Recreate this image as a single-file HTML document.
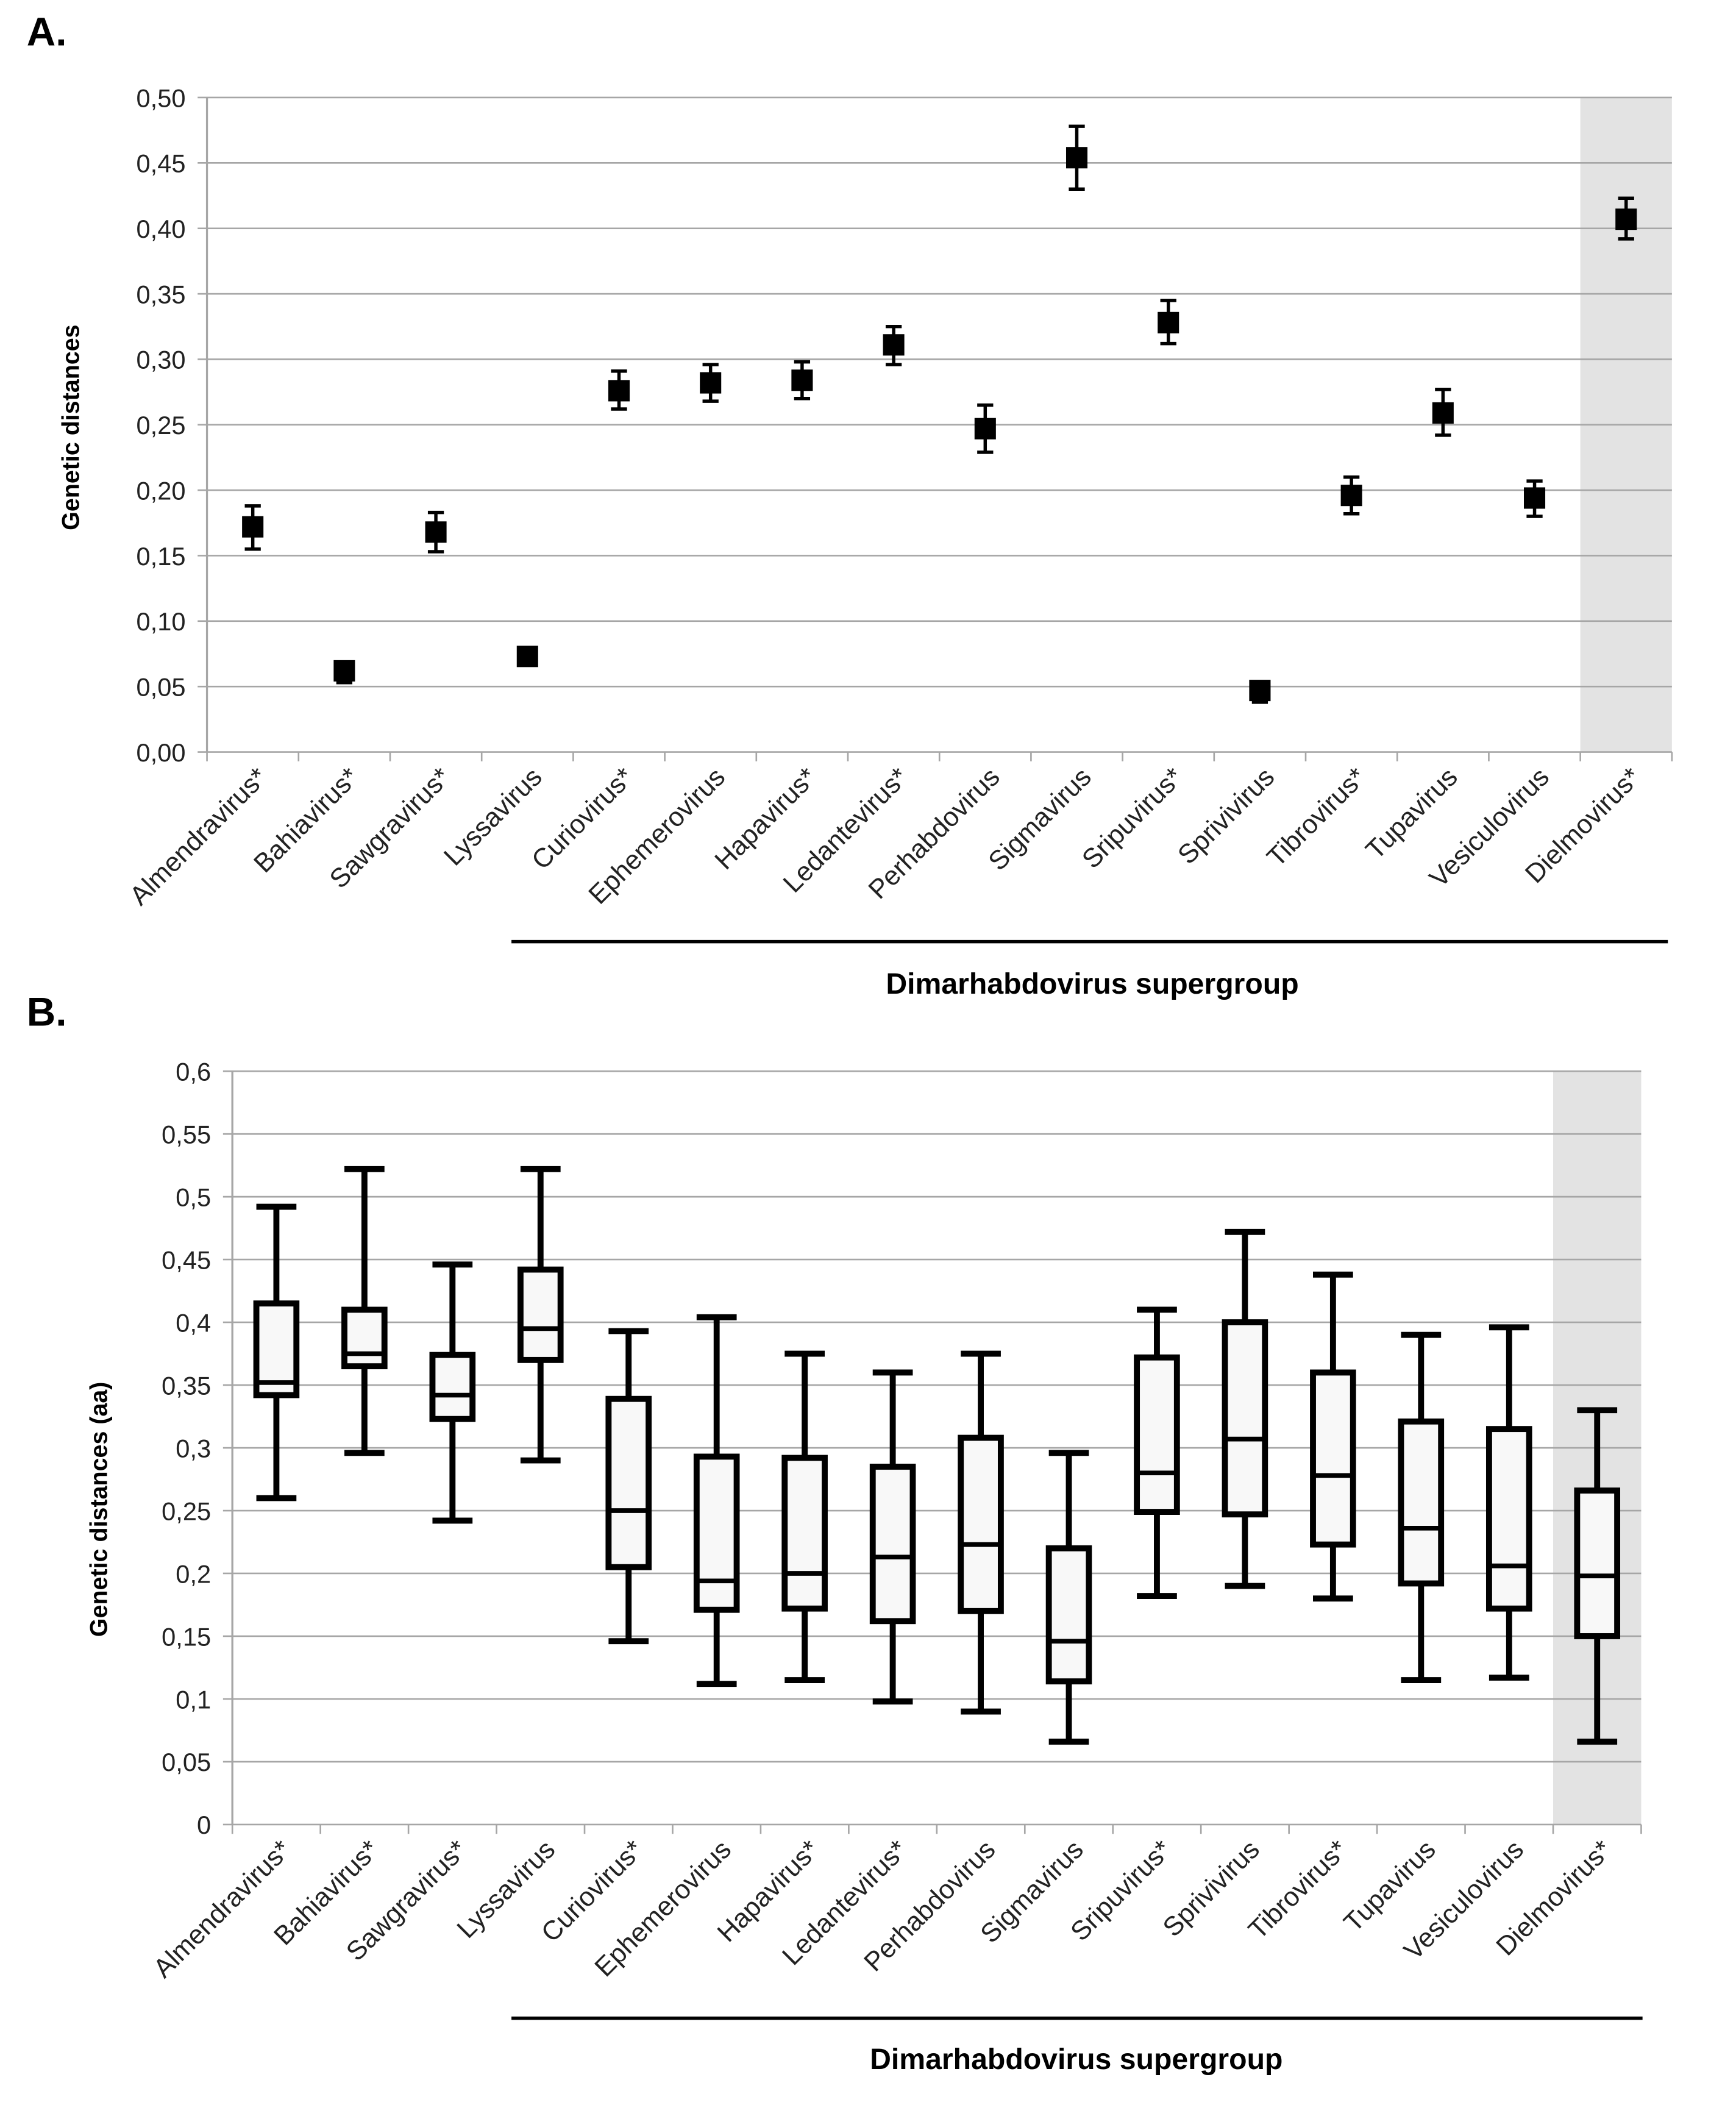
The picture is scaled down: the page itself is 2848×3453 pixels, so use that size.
<!DOCTYPE html>
<html><head><meta charset="utf-8"><style>
html,body{margin:0;padding:0;background:#fff;}
svg{display:block;font-family:"Liberation Sans",sans-serif;}
</style></head><body>
<svg id="fig" width="2848" height="3453" viewBox="0 0 1300 1576" preserveAspectRatio="none" xmlns="http://www.w3.org/2000/svg">
<rect width="1300" height="1576" fill="#fff"/>
<g id="chartA"></g>
<g id="chartB"></g>
</svg>
<script>
const catsA = ["Almendravirus*","Bahiavirus*","Sawgravirus*","Lyssavirus","Curiovirus*","Ephemerovirus","Hapavirus*","Ledantevirus*","Perhabdovirus","Sigmavirus","Sripuvirus*","Sprivivirus","Tibrovirus*","Tupavirus","Vesiculovirus","Dielmovirus*"];
const valsA = [0.172,0.062,0.168,0.073,0.276,0.282,0.284,0.311,0.247,0.454,0.328,0.047,0.196,0.259,0.194,0.407];
const loA = [0.155,0.053,0.153,0.070,0.262,0.268,0.270,0.296,0.229,0.430,0.312,0.038,0.182,0.242,0.180,0.392];
const hiA = [0.188,0.068,0.183,0.076,0.291,0.296,0.298,0.325,0.265,0.478,0.345,0.052,0.210,0.277,0.207,0.423];
const ticksA = ["0,00","0,05","0,10","0,15","0,20","0,25","0,30","0,35","0,40","0,45","0,50"];
const tickValsA = [0,0.05,0.10,0.15,0.20,0.25,0.30,0.35,0.40,0.45,0.50];

const catsB = ["Almendravirus*","Bahiavirus*","Sawgravirus*","Lyssavirus","Curiovirus*","Ephemerovirus","Hapavirus*","Ledantevirus*","Perhabdovirus","Sigmavirus","Sripuvirus*","Sprivivirus","Tibrovirus*","Tupavirus","Vesiculovirus","Dielmovirus*"];
const minB = [0.260,0.296,0.242,0.290,0.146,0.112,0.115,0.098,0.090,0.066,0.182,0.190,0.180,0.115,0.117,0.066];
const q1B = [0.342,0.365,0.323,0.370,0.205,0.171,0.172,0.162,0.170,0.114,0.249,0.247,0.223,0.192,0.172,0.150];
const medB = [0.352,0.375,0.342,0.395,0.250,0.194,0.200,0.213,0.223,0.146,0.280,0.307,0.278,0.236,0.206,0.198];
const q3B = [0.415,0.410,0.374,0.442,0.339,0.293,0.292,0.285,0.308,0.220,0.372,0.400,0.360,0.321,0.315,0.266];
const maxB = [0.492,0.522,0.446,0.522,0.393,0.404,0.375,0.360,0.375,0.296,0.410,0.472,0.438,0.390,0.396,0.330];
const ticksB = ["0","0,05","0,1","0,15","0,2","0,25","0,3","0,35","0,4","0,45","0,5","0,55","0,6"];
const tickValsB = [0,0.05,0.1,0.15,0.2,0.25,0.3,0.35,0.4,0.45,0.5,0.55,0.6];

const NS="http://www.w3.org/2000/svg";
function mk(parent,tag,attrs,text){const e=document.createElementNS(NS,tag);for(const k in attrs)e.setAttribute(k,attrs[k]);if(text!==undefined)e.textContent=text;parent.appendChild(e);return e;}

function drawFrame(g,cfg,cats,ticks,tickVals,yScale,xC){
  const {L,R,T,B}=cfg;
  const band=mk(g,'rect',{x:R-(R-L)/16,y:T,width:(R-L)/16,height:B-T,fill:'#e3e3e3'});
  
  
  ticks.forEach((t,i)=>{
    const y=yScale(tickVals[i]);
    const gl=mk(g,'line',{x1:L-7,x2:R,y1:y,y2:y,stroke:'#a6a6a6','stroke-width':1.2});
    
    
    const tl=mk(g,'text',{x:L-16,y:y+7,'text-anchor':'end','font-size':19,fill:'#222'},t);
    
    
  });
  const ax=mk(g,'line',{x1:L,x2:L,y1:T,y2:B,stroke:'#a6a6a6','stroke-width':1.5});
  
  
  const w=(R-L)/16;
  for(let i=0;i<=16;i++){
    const tk=mk(g,'line',{x1:L+i*w,x2:L+i*w,y1:B,y2:B+7,stroke:'#a6a6a6','stroke-width':1.2});
    
    
  }
  cats.forEach((c,i)=>{
    const x=xC(i)+12,y=B+20;
    const t=mk(g,'text',{x:x,y:y,'text-anchor':'end','font-size':20,fill:'#222',transform:`rotate(-45 ${x} ${y})`},c);
    
    
  });
}

// Chart A
(function(){
  const g=document.getElementById('chartA');
  const cfg={L:155,R:1252,T:73,B:563};
  const y=v=>cfg.B-(v/0.5)*(cfg.B-cfg.T);
  const w=(cfg.R-cfg.L)/16;
  const xC=i=>cfg.L+w*(i+0.5);
  const pl=mk(g,'text',{x:20,y:34,'font-size':30,'font-weight':'bold'},'A.');
  
  
  drawFrame(g,cfg,catsA,ticksA,tickValsA,y,xC);
  const yt=mk(g,'text',{x:0,y:0,'font-size':18,'font-weight':'bold','text-anchor':'middle',transform:'translate(59 320) rotate(-90)'},'Genetic distances');
  
  
  valsA.forEach((v,i)=>{
    const x=xC(i);
    const eb=mk(g,'path',{d:`M${x-6} ${y(hiA[i])}H${x+6}M${x} ${y(hiA[i])}V${y(loA[i])}M${x-6} ${y(loA[i])}H${x+6}`,stroke:'#000','stroke-width':2.5,fill:'none'});
    
    
    const m=mk(g,'rect',{x:x-8,y:y(v)-8,width:16,height:16,fill:'#000'});
    
    
  });
  const ln=mk(g,'line',{x1:383,x2:1249,y1:705,y2:705,stroke:'#000','stroke-width':2.5});
  
  
  const sl=mk(g,'text',{x:818,y:744,'text-anchor':'middle','font-size':22,'font-weight':'bold'},'Dimarhabdovirus supergroup');
  
  
})();

// Chart B
(function(){
  const g=document.getElementById('chartB');
  const cfg={L:174,R:1229,T:802,B:1366};
  const y=v=>cfg.B-(v/0.6)*(cfg.B-cfg.T);
  const w=(cfg.R-cfg.L)/16;
  const xC=i=>cfg.L+w*(i+0.5);
  const pl=mk(g,'text',{x:20,y:768,'font-size':30,'font-weight':'bold'},'B.');
  
  
  drawFrame(g,cfg,catsB,ticksB,tickValsB,y,xC);
  const yt=mk(g,'text',{x:0,y:0,'font-size':18,'font-weight':'bold','text-anchor':'middle',transform:'translate(80 1130) rotate(-90)'},'Genetic distances (aa)');
  
  
  medB.forEach((m,i)=>{
    const x=xC(i);
    const wk=mk(g,'path',{d:`M${x-15} ${y(maxB[i])}H${x+15}M${x} ${y(maxB[i])}V${y(minB[i])}M${x-15} ${y(minB[i])}H${x+15}`,stroke:'#000','stroke-width':4.5,fill:'none'});
    
    
    const bx=mk(g,'rect',{x:x-15,y:y(q3B[i]),width:30,height:y(q1B[i])-y(q3B[i]),fill:'#f8f8f8',stroke:'#000','stroke-width':4.5});
    
    
    const md=mk(g,'line',{x1:x-15,x2:x+15,y1:y(m),y2:y(m),stroke:'#000','stroke-width':3.5});
    
    
  });
  const ln=mk(g,'line',{x1:383,x2:1230,y1:1511,y2:1511,stroke:'#000','stroke-width':2.5});
  
  
  const sl=mk(g,'text',{x:806,y:1549,'text-anchor':'middle','font-size':22,'font-weight':'bold'},'Dimarhabdovirus supergroup');
  
  
})();
</script>
</body></html>
